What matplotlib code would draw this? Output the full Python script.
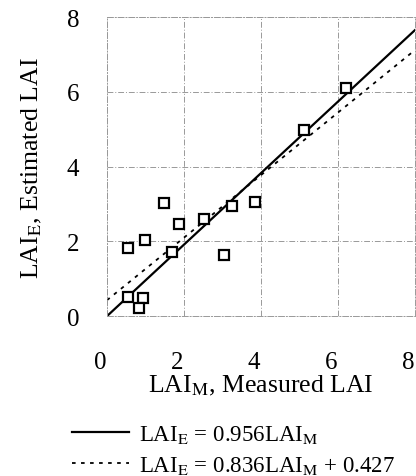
import numpy as np
import matplotlib
matplotlib.use("Agg")
import matplotlib.pyplot as plt
import matplotlib.transforms as mtransforms

plt.rcParams['font.family'] = ['Liberation Serif', 'DejaVu Serif']
plt.rcParams['mathtext.fontset'] = 'stix'

# measured vs estimated LAI
lai_measured = [6.21, 5.12, 3.25, 3.84, 2.52, 1.87, 1.48, 0.54, 1.00, 1.69, 3.03, 0.55, 0.93, 0.83]
lai_estimated = [6.11, 4.99, 2.94, 3.05, 2.60, 2.47, 3.03, 1.82, 2.04, 1.72, 1.63, 0.51, 0.48, 0.21]

# fit lines
fit1_slope, fit1_icpt = 0.956, 0.0
fit2_slope, fit2_icpt = 0.836, 0.427
fit_x = np.array([0, 8])

ticks = [0, 2, 4, 6, 8]

fig = plt.figure(figsize=(4.16, 4.77), dpi=100)
ax = fig.add_axes([0.257, 0.335, 0.74, 0.627])

l1, = ax.plot(fit_x, fit1_slope * fit_x + fit1_icpt, color='black', lw=1.6)
l2, = ax.plot(fit_x, fit2_slope * fit_x + fit2_icpt, color='black', lw=1.3,
              linestyle=(0, (2, 3)))
ax.plot(lai_measured, lai_estimated, 's', mfc='white', mec='black',
        ms=7, mew=1.6, zorder=3)

ax.set_xlim(0, 8)
ax.set_ylim(0, 8)
ax.set_xticks(ticks)
ax.set_yticks(ticks)
ax.tick_params(length=0, labelsize=18)
ax.tick_params(axis='x', pad=25)
ax.tick_params(axis='y', pad=20)
# tick labels sit slightly left of the gridlines in the original
shift = mtransforms.ScaledTranslation(-7 / 100, 0, fig.dpi_scale_trans)
for lab in ax.get_xticklabels():
    lab.set_transform(lab.get_transform() + shift)
ax.grid(True, color='#999999', lw=0.7, linestyle=(0, (6, 2, 1, 2)))
for s in ax.spines.values():
    s.set_color('#999999')
    s.set_linewidth(0.7)
    s.set_linestyle((0, (6, 2, 1, 2)))

ax.set_xlabel(r'LAI$_{\mathrm{M}}$, Measured LAI', fontsize=18.5, labelpad=0)
ax.set_ylabel(r'LAI$_{\mathrm{E}}$, Estimated LAI', fontsize=18.5, labelpad=16)

fig.legend([l1, l2],
           [r'LAI$_{\mathrm{E}}$ = 0.956LAI$_{\mathrm{M}}$',
            r'LAI$_{\mathrm{E}}$ = 0.836LAI$_{\mathrm{M}}$ + 0.427'],
           loc='upper left', bbox_to_anchor=(0.15, 0.13), frameon=False,
           fontsize=16.5, handlelength=2.5, handletextpad=0.45, labelspacing=0.4,
           borderaxespad=0)

fig.savefig('out.png', dpi=100)
